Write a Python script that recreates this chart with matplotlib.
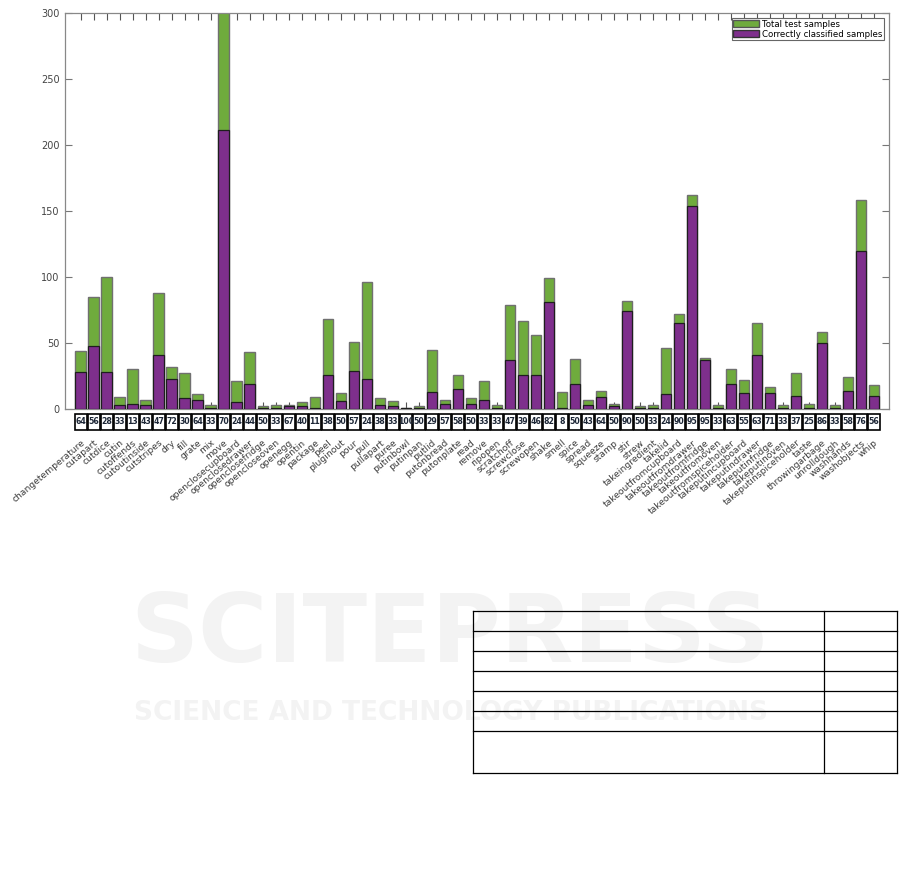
import matplotlib
matplotlib.use('Agg')
import matplotlib.pyplot as plt
import numpy as np
from matplotlib.patches import Patch, Rectangle
from matplotlib.lines import Line2D

plt.rcParams['font.family'] = ['DejaVu Sans']

actions = ['changetemperature', 'cutapart', 'cutdice', 'cutin', 'cutoffends', 'cutoutinside',
           'cutstripes', 'dry', 'fill', 'grate', 'mix', 'move', 'openclosecupboard',
           'openclosedrawer', 'openclosefridge', 'opencloseoven', 'openegg', 'opentin',
           'package', 'peel', 'pluginout', 'pour', 'pull', 'pullapart', 'puree', 'putinbowl',
           'putinpan', 'putlid', 'putonbread', 'putonplate', 'read', 'remove', 'ripopen',
           'scratchoff', 'screwclose', 'screwopen', 'shake', 'smell', 'spice', 'spread',
           'squeeze', 'stamp', 'stir', 'strew', 'takeingredient', 'takelid',
           'takeoutfromcupboard', 'takeoutfromdrawer', 'takeoutfromfridge', 'takeoutfromoven',
           'takeoutfromspiceholder', 'takeputincupboard', 'takeputindrawer', 'takeputinfridge',
           'takeputinoven', 'takeputinspiceholder', 'taste', 'throwingarbage', 'unrolldough',
           'washhands', 'washobjects', 'whip']

total = [44, 85, 100, 9, 30, 7, 88, 32, 27, 11, 3, 301, 21, 43, 2, 3, 3, 5, 9, 68,
         12, 51, 96, 8, 6, 1, 2, 45, 7, 26, 8, 21, 3, 79, 67, 56, 99, 13, 38, 7,
         14, 4, 82, 2, 3, 46, 72, 162, 39, 3, 30, 22, 65, 17, 3, 27, 4, 58, 3, 24,
         158, 18]

correct = [28, 48, 28, 3, 4, 3, 41, 23, 8, 7, 1, 211, 5, 19, 1, 1, 2, 2, 1, 26,
           6, 29, 23, 3, 2, 1, 1, 13, 4, 15, 4, 7, 1, 37, 26, 26, 81, 1, 19, 3,
           9, 2, 74, 1, 1, 11, 65, 154, 37, 1, 19, 12, 41, 12, 1, 10, 1, 50, 1, 14,
           120, 10]

percent = [64, 56, 28, 33, 13, 43, 47, 72, 30, 64, 33, 70, 24, 44, 50, 33, 67, 40, 11, 38,
           50, 57, 24, 38, 33, 100, 50, 29, 57, 58, 50, 33, 33, 47, 39, 46, 82, 8, 50, 43,
           64, 50, 90, 50, 33, 24, 90, 95, 95, 33, 63, 55, 63, 71, 33, 37, 25, 86, 33, 58,
           76, 56]

W, H = 901, 884
fig = plt.figure(figsize=(W / 100, H / 100), dpi=100)

# faint watermark behind everything
fig.text(0.5, 1 - 636 / H, 'SCITEPRESS', ha='center', va='center', fontsize=68,
         fontweight='bold', color='#f3f3f3', zorder=0)
fig.text(0.5, 1 - 713 / H, 'SCIENCE AND TECHNOLOGY PUBLICATIONS', ha='center', va='center',
         fontsize=19, fontweight='bold', color='#f3f3f3', zorder=0)

ax = fig.add_axes([65 / W, 1 - 409 / H, (889 - 65) / W, (409 - 13) / H])
ax.patch.set_alpha(0)

x = np.arange(len(actions))
ax.bar(x, total, width=0.8, color='#6fab3d', edgecolor='#707070', linewidth=1.0,
       label='Total test samples', zorder=2)
ax.bar(x, correct, width=0.8, color='#7e2f8c', edgecolor='#1e1e1e', linewidth=0.9,
       label='Correctly classified samples', zorder=3)

ax.set_xlim(-1.2, len(actions) + 0.15)
ax.set_ylim(0, 300)
ax.set_yticks(np.arange(0, 301, 50))
ax.set_xticks(x)
ax.set_xticklabels(actions, rotation=40, ha='right', rotation_mode='anchor',
                   fontsize=6.6, color='#3a3a3a')
ax.tick_params(axis='x', direction='in', top=True, length=5, width=0.8,
               color='#555555', pad=21)
ax.tick_params(axis='y', direction='in', right=True, length=5, width=0.8,
               color='#777777', labelsize=7, labelcolor='#444444', pad=4)
for s in ax.spines.values():
    s.set_color('#888888')
    s.set_linewidth(0.9)
for t in ax.get_xticklines():
    t.set_zorder(5)

# percentage boxes under the axis
trans = ax.get_xaxis_transform()
y_top = -5 / 396
y_bot = -21 / 396
for i, p in enumerate(percent):
    ax.add_patch(Rectangle((i - 0.46, y_bot), 0.92, y_top - y_bot, transform=trans,
                           facecolor='white', edgecolor='black', linewidth=1.2, clip_on=False))
    ax.text(i, (y_top + y_bot) / 2, str(p), transform=trans, ha='center', va='center',
            fontsize=5.6, fontweight='bold', color='#1c2636', clip_on=False,
            family=['Liberation Sans Narrow', 'DejaVu Sans'])

handles = [Patch(facecolor='#6fab3d', edgecolor='#555555', label='Total test samples'),
           Patch(facecolor='#7e2f8c', edgecolor='#333333', label='Correctly classified samples')]
leg = ax.legend(handles=handles, loc='upper right', fontsize=6.2, fancybox=False,
                edgecolor='#666666', framealpha=1, borderpad=0.2, labelspacing=0.1,
                handlelength=3.0, handleheight=0.9, handletextpad=0.3, borderaxespad=0.6)
leg.get_frame().set_linewidth(0.8)

# empty table outline in the lower right
rows = [611, 631, 651, 671, 691, 711, 731, 773]
for r in rows:
    fig.add_artist(Line2D([473 / W, 897 / W], [1 - r / H, 1 - r / H], color='black', lw=0.9))
for c in [473, 824, 897]:
    fig.add_artist(Line2D([c / W, c / W], [1 - 611 / H, 1 - 773 / H], color='black', lw=0.9))

fig.savefig('out.png', dpi=100)
